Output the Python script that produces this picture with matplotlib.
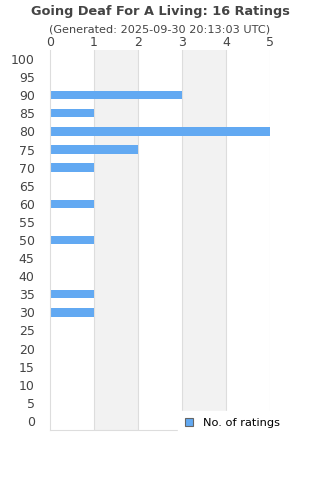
import numpy as np
from matplotlib import pyplot as plt

# ratings data
scores = list(range(0, 101, 5))
counts = [0, 0, 0, 0, 0, 0, 1, 1, 0, 0, 1, 0, 1, 0, 1, 2, 5, 1, 3, 0, 0]
title = "Going Deaf For A Living: 16 Ratings"
subtitle = "(Generated: 2025-09-30 20:13:03 UTC)"

bar_color = "#62a9f2"
text_color = "#444444"

fig = plt.figure(figsize=(3.2, 4.8), dpi=100)
ax = fig.add_axes([50 / 320, 1 - 430 / 480, 220 / 320, 380 / 480])

# alternating bands
for x0 in range(0, 5):
    if x0 % 2 == 1:
        ax.axvspan(x0, x0 + 1, color="#f2f2f2", zorder=0, lw=0)
for x0 in range(1, 6):
    ax.axvline(x0, color="#dddddd", lw=0.8, zorder=1)

ax.barh(scores, counts, height=2.3, color=bar_color, zorder=2, label="No. of ratings")

ax.set_xlim(0, 5)
ax.set_ylim(-2.5, 102.5)
ax.set_yticks(scores)
ax.set_yticklabels([str(s) for s in scores], fontsize=9, color=text_color)
ax.set_xticks(range(6))
ax.xaxis.tick_top()
ax.tick_params(axis="x", length=0, pad=1, labelsize=9, labelcolor=text_color)
ax.tick_params(axis="y", length=0, pad=11)

for side in ["top", "right"]:
    ax.spines[side].set_visible(False)
for side in ["left", "bottom"]:
    ax.spines[side].set_color("#dddddd")

fig.text(0.5, 1 - 11 / 480, title, ha="center", va="center", fontsize=9.3,
         fontweight="bold", color=text_color)
fig.text(0.5, 1 - 30 / 480, subtitle, ha="center", va="center", fontsize=8.1,
         color=text_color)

leg = ax.legend(loc="upper left", bbox_to_anchor=(178 / 320, 1 - 411 / 480),
                bbox_transform=fig.transFigure, frameon=True,
                fancybox=False, framealpha=1, edgecolor="white", fontsize=8.2,
                handlelength=0.7, handleheight=0.7, handletextpad=0.9,
                borderpad=0.6, borderaxespad=0)
leg.set_zorder(5)
leg.legend_handles[0].set_edgecolor("#666666")
leg.legend_handles[0].set_linewidth(0.8)

plt.savefig("out.png", dpi=100)
